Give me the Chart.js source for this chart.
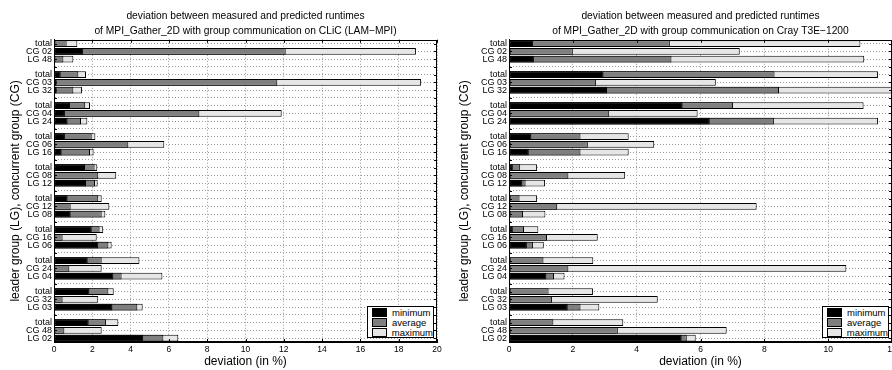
<!DOCTYPE html>
<html>
<head>
<meta charset="utf-8">
<script src="https://cdn.jsdelivr.net/npm/chart.js@4.4.1/dist/chart.umd.min.js"></script>
<style>
  html, body { margin: 0; padding: 0; background: #fff; width: 892px; height: 370px; overflow: hidden; }
  .panel { position: absolute; top: 0; height: 370px; }
  #p1 { left: 0; width: 446px; }
  #p2 { left: 446px; width: 460px; }
  .legend { position: absolute; box-sizing: border-box; border: 1.5px solid #000; background: #fff;
            padding: 0 0 0 4px; font: 9.5px 'Liberation Sans', Arial, sans-serif; color: #000; }
  .legend .row { height: 10px; display: flex; align-items: center; }
  .legend .sw { width: 13px; height: 7px; border: 1px solid #000; margin-right: 5px; }
</style>
</head>
<body>
<div class="panel" id="p1"><canvas id="clic"></canvas></div>
<div class="panel" id="p2"><canvas id="cray"></canvas></div>
<div class="legend" id="leg1" style="left:367px; top:306px; width:67px; height:32px;"></div>
<div class="legend" id="leg2" style="left:822px; top:306px; width:67px; height:32px;"></div>
<script>
// rows: total / concurrent group / leader group, blank row between blocks
const rowLabels = [
  'total', 'CG 02', 'LG 48', '',
  'total', 'CG 03', 'LG 32', '',
  'total', 'CG 04', 'LG 24', '',
  'total', 'CG 06', 'LG 16', '',
  'total', 'CG 08', 'LG 12', '',
  'total', 'CG 12', 'LG 08', '',
  'total', 'CG 16', 'LG 06', '',
  'total', 'CG 24', 'LG 04', '',
  'total', 'CG 32', 'LG 03', '',
  'total', 'CG 48', 'LG 02'
];

// CLiC (LAM-MPI), deviation in %
const clicMin = [0.05, 1.53, 0.05, null, 0.35, 0.14, 0.14, null, 0.84, 0.57, 0.71, null,
  0.57, 0.05, 0.40, null, 1.62, 0.05, 1.67, null, 0.71, 0.05, 0.87, null,
  1.97, 0.05, 2.31, null, 1.76, 0.05, 3.10, null, 1.85, 0.05, 3.05, null, 1.81, 0.05, 4.66];
const clicAvg = [0.66, 12.1, 0.49, null, 1.27, 11.66, 1.01, null, 1.63, 7.59, 1.41, null,
  1.97, 3.88, 1.88, null, 2.12, 2.31, 2.14, null, 2.31, 0.87, 2.49, null,
  2.38, 0.45, 2.84, null, 2.49, 0.80, 3.53, null, 2.84, 0.45, 4.35, null, 2.72, 0.54, 5.71];
const clicMax = [1.22, 18.9, 1.01, null, 1.67, 19.17, 1.46, null, 1.88, 11.89, 1.74, null,
  2.16, 5.76, 2.07, null, 2.26, 3.25, 2.28, null, 2.49, 2.89, 2.68, null,
  2.57, 2.23, 3.01, null, 4.46, 2.49, 5.66, null, 3.12, 2.31, 4.63, null, 3.36, 2.49, 6.49];

// Cray T3E-1200, deviation in %
const crayMin = [0.75, 0.05, 0.78, null, 2.96, 0.05, 3.07, null, 5.44, 0.05, 6.29, null,
  0.70, 0.05, 0.62, null, 0.12, 0.05, 0.42, null, 0.05, 0.05, 0.05, null,
  0.12, 0.05, 0.56, null, 0.05, 0.05, 1.17, null, 0.05, 0.05, 1.84, null, 0.05, 0.05, 5.41];
const crayAvg = [5.04, 2.00, 5.09, null, 8.32, 2.73, 8.46, null, 7.02, 3.14, 8.30, null,
  2.24, 2.47, 2.24, null, 0.35, 1.86, 0.52, null, 0.33, 1.51, 0.44, null,
  0.47, 1.19, 0.75, null, 1.08, 1.86, 1.41, null, 1.24, 1.35, 2.24, null, 1.39, 3.41, 5.57];
const crayMax = [11.01, 7.23, 11.13, null, 11.56, 6.48, 12.0, null, 11.11, 5.91, 11.56, null,
  3.75, 4.55, 3.75, null, 0.88, 3.64, 1.13, null, 0.88, 7.76, 1.14, null,
  0.92, 2.78, 1.09, null, 2.64, 10.57, 1.74, null, 2.63, 4.66, 2.83, null, 3.58, 6.82, 5.85];

const seriesNames = ['minimum', 'average', 'maximum'];
const seriesColors = ['#000000', '#7f7f7f', '#e6e6e6'];

Chart.defaults.font.family = "'Liberation Sans', Arial, sans-serif";
Chart.defaults.color = '#000';

// solid box round the plot plus inward tick marks
const frame = {
  id: 'frame',
  afterDraw(chart) {
    const { ctx, chartArea: a, scales: { x, y } } = chart;
    ctx.save();
    ctx.strokeStyle = '#000';
    ctx.lineWidth = 1;
    ctx.beginPath();
    x.ticks.forEach((t, i) => {
      const px = Math.round(x.getPixelForTick(i)) + 0.5;
      ctx.moveTo(px, a.bottom); ctx.lineTo(px, a.bottom - 3);
      ctx.moveTo(px, a.top); ctx.lineTo(px, a.top + 3);
    });
    y.ticks.forEach((t, i) => {
      const py = Math.round(y.getPixelForTick(i)) + 0.5;
      ctx.moveTo(a.left, py); ctx.lineTo(a.left + 3, py);
      ctx.moveTo(a.right, py); ctx.lineTo(a.right - 3, py);
    });
    ctx.stroke();
    ctx.strokeRect(Math.round(a.left) + 0.5, Math.round(a.top) + 0.5,
      Math.round(a.right - a.left) - 1, Math.round(a.bottom - a.top) - 1);
    ctx.restore();
  }
};

function makeChart(id, title, mins, avgs, maxs, xMax, yWidth, padRight, yTitlePad) {
  const data = [mins, avgs, maxs];
  return new Chart(document.getElementById(id), {
    type: 'bar',
    data: {
      labels: rowLabels,
      datasets: seriesNames.map((name, i) => ({
        label: name,
        data: data[i],
        backgroundColor: seriesColors[i],
        borderColor: '#000',
        borderWidth: 1,
        borderSkipped: false,
        grouped: false,
        barPercentage: 0.85,
        categoryPercentage: 1
      }))
    },
    plugins: [frame],
    options: {
      indexAxis: 'y',
      responsive: true,
      maintainAspectRatio: false,
      animation: false,
      layout: { padding: { left: 0, right: padRight, top: 0, bottom: 0 } },
      plugins: {
        legend: { display: false },
        tooltip: { enabled: false },
        title: {
          display: true,
          text: title,
          fullSize: false,
          color: '#000',
          font: { size: 10.25, weight: 'normal', lineHeight: 1.5 },
          padding: { top: 8, bottom: 1 }
        }
      },
      scales: {
        x: {
          min: 0,
          max: xMax,
          afterFit: s => { s.height = 28; },
          grid: { color: '#999', drawTicks: false },
          border: { display: true, color: '#000', dash: [1, 2] },
          ticks: { stepSize: 2, autoSkip: false, maxRotation: 0, padding: 3, font: { size: 8.5 } },
          title: { display: true, text: 'deviation (in %)', font: { size: 12 }, padding: { top: 0, bottom: 1 } }
        },
        y: {
          afterFit: s => { s.width = yWidth; },
          grid: { color: '#999', drawTicks: false, offset: false },
          border: { display: true, color: '#000', dash: [1, 2] },
          ticks: { autoSkip: false, padding: 2, font: { size: 9 } },
          title: { display: true, text: 'leader group (LG), concurrent group (CG)', font: { size: 12 }, padding: { top: yTitlePad, bottom: 0 } }
        }
      }
    }
  });
}

makeChart('clic', ['deviation between measured and predicted runtimes',
  'of MPI_Gather_2D with group communication on CLiC (LAM\u2212MPI)'],
  clicMin, clicAvg, clicMax, 20, 54, 9, 8);
makeChart('cray', ['deviation between measured and predicted runtimes',
  'of MPI_Gather_2D with group communication on Cray T3E\u22121200'],
  crayMin, crayAvg, crayMax, 12, 63, 14, 11);

// legend boxes inside the lower right corner of each plot
['leg1', 'leg2'].forEach(id => {
  document.getElementById(id).innerHTML = seriesNames.map((n, i) =>
    `<div class="row"><span class="sw" style="background:${seriesColors[i]}"></span>${n}</div>`).join('');
});
</script>
</body>
</html>
